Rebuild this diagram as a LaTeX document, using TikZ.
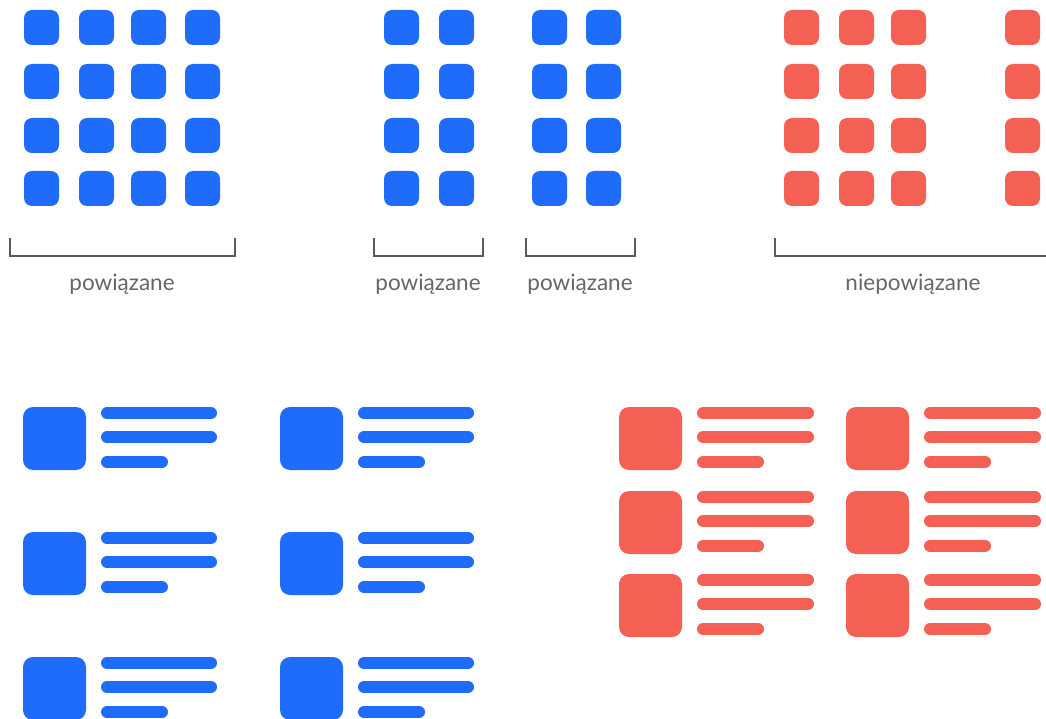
\documentclass[tikz,border=0pt]{standalone}
\usepackage{fontspec}
\setmainfont{Lato}
\usetikzlibrary{positioning}
\definecolor{tileblue}{HTML}{1F6CFA}
\definecolor{tilered}{HTML}{F56054}
\definecolor{brackgray}{HTML}{5A5A5A}
\definecolor{labgray}{HTML}{666666}

\begin{document}
\begin{tikzpicture}[x=1pt,y=-1pt,
  tile/.style={rounded corners=8pt},
  card/.style={rounded corners=10pt},
  bar/.style={line width=12pt,line cap=round},
  brack/.style={brackgray,line width=2pt},
  lab/.style={labgray,font=\fontsize{22.5}{26}\selectfont}]
\useasboundingbox (0,0) rectangle (1046,719);
% top: tile grids
\foreach \x in {24,79,131,185,384,439,532,586}{
  \foreach \y in {10,64,118,171}{ \fill[tileblue,tile] (\x,\y) rectangle ++(35,35);}}
\foreach \x in {784,839,891,1005}{
  \foreach \y in {10,64,118,171}{ \fill[tilered,tile] (\x,\y) rectangle ++(35,35);}}
% brackets
\draw[brack] (10,238) -- (10,256) -- (235,256) -- (235,238);
\draw[brack] (374,238) -- (374,256) -- (483,256) -- (483,238);
\draw[brack] (526,238) -- (526,256) -- (635,256) -- (635,238);
\draw[brack] (775,238) -- (775,256) -- (1046,256);
% labels
\node[lab] (labA) at (122,284) {powiązane};
\node[lab] (labB) at (428,284) {powiązane};
\node[lab] (labC) at (580,284) {powiązane};
\node[lab] (labD) at (913,284) {niepowiązane};
% bottom: list cards (blue, loose)
\foreach \x/\y in {23/407,280/407,23/532,280/532,23/657,280/657}{
  \fill[tileblue,card] (\x,\y) rectangle ++(63,63);
  \draw[tileblue,bar] (\x+84,\y+6) -- (\x+188,\y+6);
  \draw[tileblue,bar] (\x+84,\y+30) -- (\x+188,\y+30);
  \draw[tileblue,bar] (\x+84,\y+55) -- (\x+139,\y+55);}
% bottom: list cards (red, tight)
\foreach \x/\y in {619/407,846/407,619/491,846/491,619/574,846/574}{
  \fill[tilered,card] (\x,\y) rectangle ++(63,63);
  \draw[tilered,bar] (\x+84,\y+6) -- (\x+189,\y+6);
  \draw[tilered,bar] (\x+84,\y+30) -- (\x+189,\y+30);
  \draw[tilered,bar] (\x+84,\y+55) -- (\x+139,\y+55);}
\end{tikzpicture}
\end{document}
